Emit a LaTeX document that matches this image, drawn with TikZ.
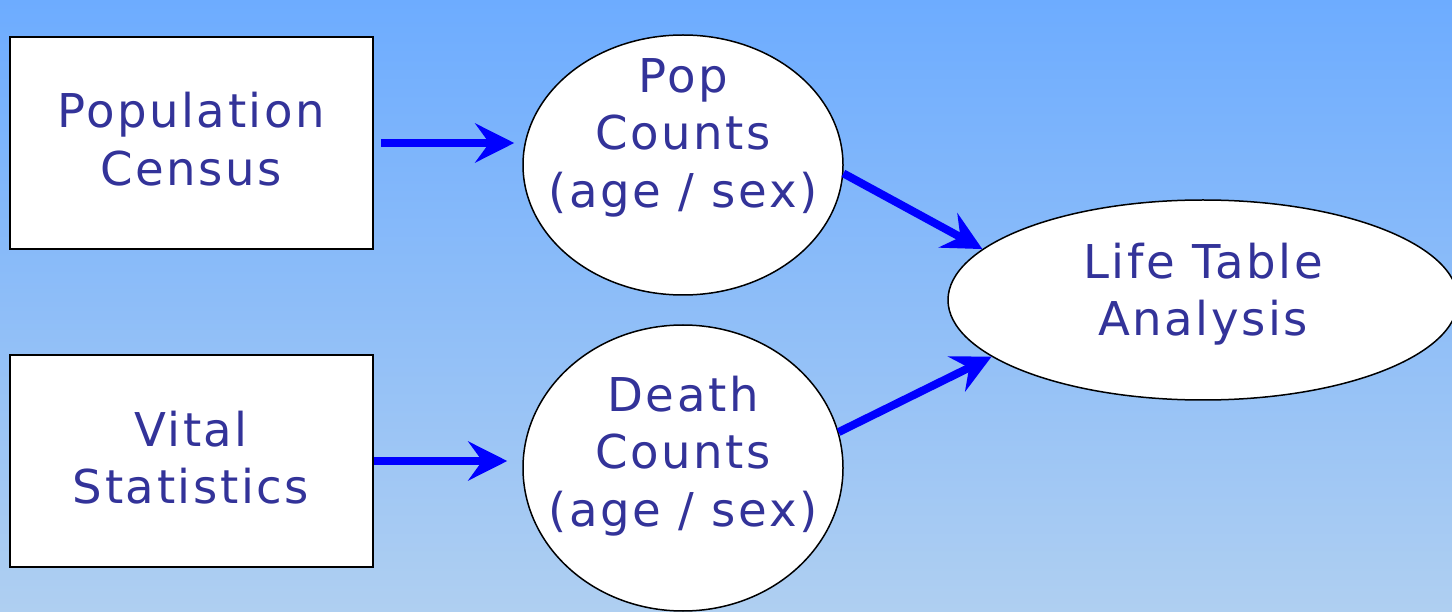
\documentclass[tikz,border=0pt]{standalone}
\usepackage{fontspec}
\newfontfamily\lblfont[LetterSpace=5.5]{DejaVu Sans}
\usetikzlibrary{shapes.geometric,arrows.meta}
\definecolor{txtc}{HTML}{333399}
\definecolor{bgtop}{HTML}{6DACFF}
\definecolor{bgbot}{HTML}{AFCFF1}
\definecolor{arrowblue}{HTML}{0000FF}
\begin{document}
\begin{tikzpicture}[x=1pt,y=-1pt,
  lab/.style={font=\lblfont\fontsize{46.6}{57.5}\selectfont, text=txtc, align=center, inner sep=0pt},
  boxn/.style={rectangle, draw=black, line width=2pt, fill=white, minimum width=363pt, minimum height=212pt, inner sep=0pt},
  ovaln/.style={ellipse, draw=black, line width=1.5pt, fill=white, inner sep=0pt},
  flow/.style={draw=arrowblue, line width=8pt, -{Stealth[length=39pt,width=39pt,inset=14pt]}}]
\useasboundingbox (0,0) rectangle (1452,612);
\shade[top color=bgtop, bottom color=bgbot] (0,0) rectangle (1452,612);

\node[boxn] (pc) at (191.5,143) {};
\node[boxn] (vs) at (191.5,461) {};
\node[ovaln, minimum width=320pt, minimum height=260pt] (pop) at (683,165) {};
\node[ovaln, minimum width=320pt, minimum height=286pt] (death) at (683,468) {};
\node[ovaln, minimum width=510pt, minimum height=200pt] (lta) at (1203,300) {};

\node[lab] (pctext) at (191,139.3) {Population\\Census};
\node[lab] (vstext) at (191,457.8) {Vital\\Statistics};
\node[lab] (poptext) at (683,137.4) {Pop\\Counts\\(age / sex)};
\node[lab] (deathtext) at (683,456) {Death\\Counts\\(age / sex)};
\node[lab] (ltatext) at (1203,294.2) {Life Table\\Analysis};

\draw[flow] ([xshift=7pt]pc.east) -- ([xshift=-8pt]pc.east -| pop.west);
\draw[flow] (vs.east) -- ([xshift=-15pt]vs.east -| death.west);
\draw[flow] (pop.-3) -- (lta.167);
\draw[flow] (death.13) -- (lta.195);
\end{tikzpicture}
\end{document}
